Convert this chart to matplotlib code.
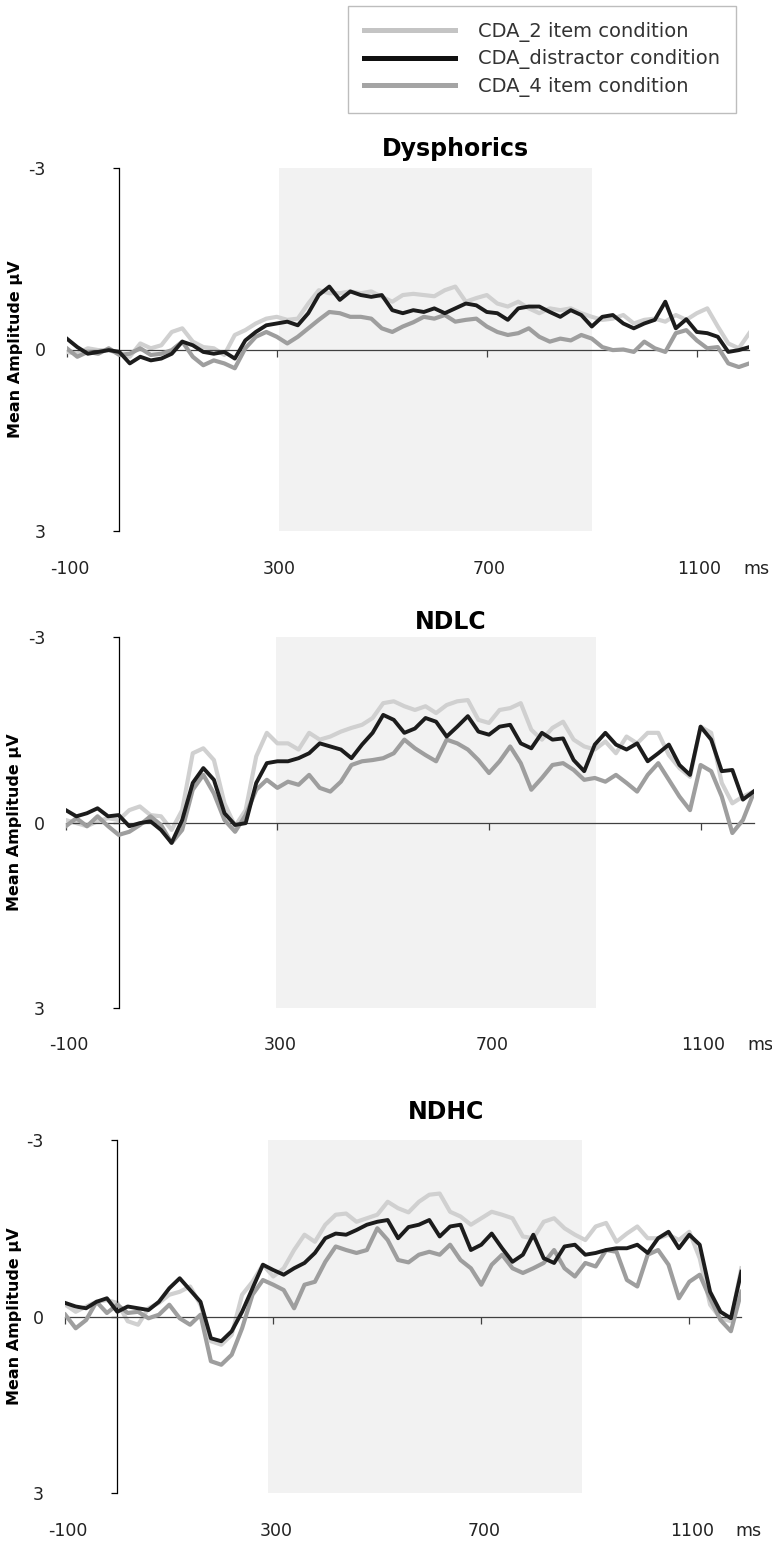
import numpy as np
import matplotlib.pyplot as plt
from matplotlib.lines import Line2D

# time axis in ms, one sample every 20 ms
times = np.arange(-100, 1201, 20)

# mean amplitude (uV), negative is plotted upwards
dys_2item = [0.04, 0.07, -0.02, 0.01, 0.01, 0.07, 0.12, -0.10, -0.02, -0.07, -0.29, -0.35,
             -0.13, -0.04, -0.02, 0.09, -0.24, -0.32, -0.43, -0.51, -0.54, -0.49, -0.51, -0.76,
             -0.98, -0.93, -0.93, -0.96, -0.93, -0.96, -0.87, -0.79, -0.90, -0.92,
             -0.90, -0.88, -0.98, -1.04, -0.79, -0.85, -0.90, -0.76, -0.71, -0.79, -0.68, -0.60,
             -0.68, -0.65, -0.68, -0.60, -0.54, -0.49, -0.51, -0.57, -0.43, -0.49, -0.51, -0.46,
             -0.57, -0.49, -0.60, -0.68, -0.38, -0.10, -0.02, -0.27]
dys_distr = [-0.18, -0.04, 0.07, 0.04, 0.01, 0.04, 0.23, 0.12, 0.18, 0.15, 0.07, -0.13,
             -0.07, 0.04, 0.07, 0.04, 0.15, -0.15, -0.29, -0.40, -0.43, -0.46, -0.40, -0.60,
             -0.90, -1.04, -0.82, -0.96, -0.90, -0.87, -0.90, -0.65, -0.60, -0.65,
             -0.62, -0.68, -0.60, -0.68, -0.76, -0.73, -0.62, -0.60, -0.49, -0.68, -0.71, -0.71,
             -0.62, -0.54, -0.65, -0.57, -0.38, -0.54, -0.57, -0.43, -0.35, -0.43, -0.49, -0.79,
             -0.35, -0.50, -0.29, -0.27, -0.21, 0.04, 0.01, -0.04]
dys_4item = [-0.02, 0.12, 0.04, 0.07, -0.02, 0.09, 0.07, -0.02, 0.09, 0.07, 0.01, -0.13,
             0.12, 0.26, 0.18, 0.23, 0.31, -0.02, -0.21, -0.29, -0.21, -0.10, -0.21, -0.35,
             -0.49, -0.62, -0.60, -0.54, -0.54, -0.51, -0.35, -0.29, -0.38, -0.45,
             -0.54, -0.51, -0.57, -0.46, -0.49, -0.51, -0.38, -0.29, -0.24, -0.27, -0.35, -0.21,
             -0.13, -0.18, -0.15, -0.24, -0.18, -0.04, 0.01, 0.00, 0.04, -0.13, -0.02, 0.04,
             -0.27, -0.32, -0.15, -0.02, -0.04, 0.23, 0.29, 0.23]

ndlc_2item = [-0.04, 0.01, 0.06, -0.02, -0.07, -0.04, -0.20, -0.26, -0.12, -0.10, 0.12, -0.20,
              -1.12, -1.20, -1.01, -0.31, 0.06, -0.20, -1.07, -1.45, -1.28, -1.28, -1.18, -1.45,
              -1.34, -1.39, -1.47, -1.53, -1.58, -1.69, -1.93, -1.96, -1.88, -1.82,
              -1.88, -1.77, -1.90, -1.96, -1.98, -1.66, -1.61, -1.82, -1.85, -1.93, -1.50, -1.34,
              -1.53, -1.63, -1.34, -1.23, -1.18, -1.31, -1.12, -1.39, -1.28, -1.45, -1.45, -1.09,
              -0.88, -0.74, -1.55, -1.45, -0.64, -0.31, -0.42, -0.50]
ndlc_distr = [-0.20, -0.10, -0.15, -0.23, -0.10, -0.12, 0.06, 0.01, -0.02, 0.12, 0.33, -0.04,
              -0.64, -0.88, -0.69, -0.15, 0.04, 0.01, -0.64, -0.96, -0.99, -0.99, -1.04, -1.12,
              -1.28, -1.23, -1.18, -1.04, -1.26, -1.45, -1.74, -1.66, -1.45, -1.52,
              -1.69, -1.63, -1.39, -1.55, -1.72, -1.47, -1.42, -1.55, -1.58, -1.28, -1.20, -1.45,
              -1.34, -1.36, -1.01, -0.83, -1.26, -1.45, -1.26, -1.18, -1.28, -0.99, -1.12, -1.26,
              -0.93, -0.77, -1.55, -1.34, -0.83, -0.85, -0.37, -0.50]
ndlc_4item = [0.06, -0.07, 0.06, -0.10, 0.06, 0.20, 0.15, 0.04, -0.10, 0.04, 0.33, 0.12,
              -0.53, -0.77, -0.47, -0.04, 0.15, -0.12, -0.53, -0.69, -0.56, -0.66, -0.61, -0.77,
              -0.56, -0.50, -0.66, -0.93, -0.99, -1.01, -1.04, -1.12, -1.34, -1.20,
              -1.09, -0.99, -1.34, -1.28, -1.18, -1.01, -0.80, -0.99, -1.23, -0.96, -0.53, -0.72,
              -0.93, -0.96, -0.85, -0.69, -0.72, -0.66, -0.77, -0.64, -0.50, -0.77, -0.96, -0.69,
              -0.42, -0.20, -0.93, -0.83, -0.42, 0.17, -0.04, -0.47]

ndhc_2item = [-0.20, -0.08, -0.17, -0.25, -0.28, -0.23, 0.08, 0.14, -0.14, -0.23, -0.37, -0.42,
              -0.51, -0.20, 0.42, 0.48, 0.31, -0.37, -0.59, -0.88, -0.68, -0.82, -1.13, -1.39,
              -1.27, -1.56, -1.73, -1.75, -1.61, -1.67, -1.73, -1.95, -1.84, -1.77,
              -1.95, -2.07, -2.09, -1.78, -1.70, -1.56, -1.67, -1.78, -1.73, -1.67, -1.36, -1.33,
              -1.61, -1.67, -1.50, -1.39, -1.30, -1.53, -1.59, -1.27, -1.41, -1.53, -1.33, -1.33,
              -1.39, -1.30, -1.44, -0.99, -0.20, 0.03, 0.08, -0.82]
ndhc_distr = [-0.23, -0.17, -0.14, -0.25, -0.31, -0.08, -0.17, -0.14, -0.11, -0.25, -0.48, -0.65,
              -0.45, -0.25, 0.37, 0.42, 0.25, -0.08, -0.48, -0.88, -0.79, -0.71, -0.82, -0.91,
              -1.08, -1.33, -1.41, -1.39, -1.47, -1.56, -1.61, -1.64, -1.33, -1.52,
              -1.56, -1.64, -1.36, -1.53, -1.56, -1.13, -1.22, -1.41, -1.16, -0.93, -1.05, -1.39,
              -0.99, -0.91, -1.19, -1.22, -1.05, -1.08, -1.13, -1.16, -1.16, -1.22, -1.08, -1.33,
              -1.44, -1.16, -1.39, -1.22, -0.42, -0.08, 0.03, -0.76]
ndhc_4item = [-0.03, 0.20, 0.06, -0.25, -0.06, -0.20, -0.06, -0.08, 0.03, -0.03, -0.20, 0.03,
              0.14, -0.03, 0.76, 0.82, 0.65, 0.20, -0.37, -0.62, -0.54, -0.45, -0.14, -0.54,
              -0.59, -0.93, -1.19, -1.13, -1.08, -1.13, -1.50, -1.30, -0.96, -0.92,
              -1.05, -1.10, -1.05, -1.22, -0.96, -0.82, -0.54, -0.88, -1.05, -0.82, -0.74, -0.82,
              -0.91, -1.13, -0.82, -0.68, -0.91, -0.85, -1.13, -1.10, -0.62, -0.51, -1.05, -1.13,
              -0.88, -0.31, -0.59, -0.71, -0.31, 0.06, 0.25, -0.42]

titles = ["Dysphorics", "NDLC", "NDHC"]
windows = [(305, 900), (297, 902), (289, 893)]  # shaded analysis window (ms)
series = [(dys_2item, dys_distr, dys_4item),
          (ndlc_2item, ndlc_distr, ndlc_4item),
          (ndhc_2item, ndhc_distr, ndhc_4item)]
labels = ["CDA_2 item condition", "CDA_distractor condition", "CDA_4 item condition"]
colors = ["#d0d0d0", "#1c1c1c", "#9e9e9e"]
xtick_vals = [-100, 300, 700, 1100]

W, H = 772, 1546
fig = plt.figure(figsize=(W / 100, H / 100), dpi=100)

# axes boxes in pixels: left, top, right, bottom
boxes = [(66.8, 168, 749.3, 531), (65.8, 637, 753.5, 1008), (65.3, 1140, 741.3, 1493)]
title_pos = [(0.57, 14), (0.56, 11), (0.563, 20)]

for i, (l, t, r, b) in enumerate(boxes):
    ax = fig.add_axes([l / W, 1 - b / H, (r - l) / W, (b - t) / H])
    ax.set_xlim(-100, 1200)
    ax.set_ylim(3, -3)
    ax.axvspan(*windows[i], color="#f2f2f2", zorder=0, lw=0)

    two, dist, four = series[i]
    ax.plot(times, two, color=colors[0], lw=3.0, zorder=2, solid_joinstyle="round")
    ax.plot(times, four, color=colors[2], lw=3.0, zorder=3, solid_joinstyle="round")
    ax.plot(times, dist, color=colors[1], lw=2.8, zorder=4, solid_joinstyle="round")

    for s in ["top", "right"]:
        ax.spines[s].set_visible(False)
    ax.spines["left"].set_position(("data", 0))
    ax.spines["bottom"].set_position(("data", 0))
    ax.spines["left"].set_linewidth(0.9)
    ax.spines["bottom"].set_linewidth(0.9)
    ax.spines["bottom"].set_color("#404040")
    ax.patch.set_alpha(0)

    ax.set_yticks([-3, 0, 3])
    ax.set_yticklabels(["-3", "0", "3"], fontsize=12.5, color="#222222")
    ax.tick_params(axis="y", length=4, width=0.9, pad=49)
    ax.set_xticks(xtick_vals)
    ax.set_xticklabels([])
    ax.tick_params(axis="x", length=5, width=0.9, color="#404040", direction="out")

    for v in xtick_vals:
        ax.annotate(str(v), xy=(v, 0), xycoords=("data", "axes fraction"),
                    xytext=(2, -27), textcoords="offset points",
                    ha="center", va="center", fontsize=12.5, color="#222222")
    ax.annotate("ms", xy=(1200, 0), xycoords=("data", "axes fraction"),
                xytext=(5, -27), textcoords="offset points",
                ha="center", va="center", fontsize=12.5, color="#222222")

    ax.set_ylabel("Mean Amplitude \u00b5V", fontsize=11.5, fontweight="bold")
    ax.yaxis.set_label_coords(-0.064, 0.5)

    tx, ty = title_pos[i]
    ax.annotate(titles[i], xy=(tx, 1), xycoords="axes fraction",
                xytext=(0, ty), textcoords="offset points",
                ha="center", va="center", fontsize=17, fontweight="bold")

handles = [Line2D([], [], color=c, lw=3.6) for c in ["#c4c4c4", "#111111", "#a4a4a4"]]
fig.legend(handles, labels, loc="upper left", bbox_to_anchor=(348 / W, 1 - 6 / H),
           borderaxespad=0, fontsize=14, handlelength=4.7, handletextpad=1.2,
           labelspacing=0.4, borderpad=0.8, fancybox=False, edgecolor="#bdbdbd",
           framealpha=1, labelcolor="#333333")

fig.savefig("out.png", dpi=100)
